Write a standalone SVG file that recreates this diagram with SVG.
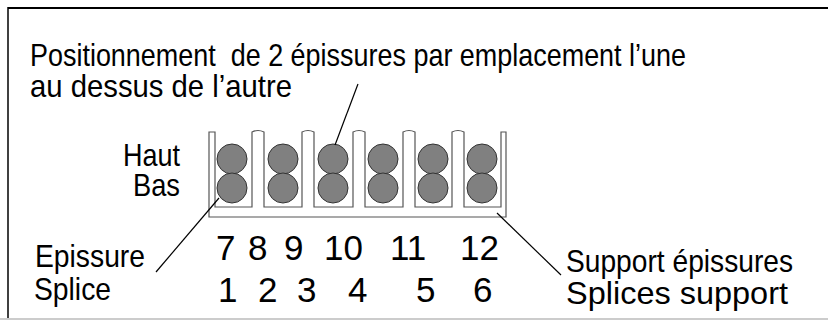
<svg xmlns="http://www.w3.org/2000/svg" width="828" height="320" viewBox="0 0 828 320">
<style>
text{font-family:"Liberation Sans",Arial,sans-serif;fill:#000;white-space:pre}
.t{font-size:32px}
.n{font-size:35px}
.c{fill:#808080;stroke:#333;stroke-width:1}
.ln{stroke:#000;stroke-width:1.2;fill:none}
</style>
<rect width="828" height="320" fill="#fff"/>
<g id="frame">
<line x1="8" y1="8" x2="828" y2="8" stroke="#000" stroke-width="2"/>
<line x1="8" y1="7" x2="8" y2="318" stroke="#000" stroke-width="1.5"/>
<line x1="0" y1="319" x2="828" y2="319" stroke="#bbb" stroke-width="1.5"/>
</g>
<g id="title">
<text class="t" x="30" y="66" textLength="656" lengthAdjust="spacingAndGlyphs">Positionnement  de 2 épissures par emplacement l’une</text>
<text class="t" x="30" y="97" textLength="262" lengthAdjust="spacingAndGlyphs">au dessus de l’autre</text>
</g>
<g id="tray">
<path d="M209,132 V217 H506 V132 H501 V207 H464 V132 Q458,129 452,132 V207 H415 V132 Q409,129 403,132 V207 H365 V132 Q359,129 353,132 V207 H314 V132 Q308,129 302,132 V207 H264 V132 Q258,129 252,132 V207 H215 V132 Z" fill="#fff" stroke="#555" stroke-width="1.2"/>
</g>
<g id="splices">
<circle class="c" cx="232" cy="159" r="15"/><circle class="c" cx="232" cy="188" r="15"/>
<circle class="c" cx="283" cy="159" r="15"/><circle class="c" cx="283" cy="188" r="15"/>
<circle class="c" cx="333" cy="159" r="15"/><circle class="c" cx="333" cy="188" r="15"/>
<circle class="c" cx="383" cy="159" r="15"/><circle class="c" cx="383" cy="188" r="15"/>
<circle class="c" cx="433" cy="159" r="15"/><circle class="c" cx="433" cy="188" r="15"/>
<circle class="c" cx="482" cy="159" r="15"/><circle class="c" cx="482" cy="188" r="15"/>
</g>
<g id="labels">
<text class="t" x="123" y="166" textLength="57" lengthAdjust="spacingAndGlyphs">Haut</text>
<text class="t" x="133" y="196" textLength="47" lengthAdjust="spacingAndGlyphs">Bas</text>
<text class="t" x="35" y="267" textLength="110" lengthAdjust="spacingAndGlyphs">Epissure</text>
<text class="t" x="34" y="300" textLength="77" lengthAdjust="spacingAndGlyphs">Splice</text>
<text class="t" x="566" y="272" textLength="227" lengthAdjust="spacingAndGlyphs">Support épissures</text>
<text class="t" x="566" y="304" textLength="222" lengthAdjust="spacingAndGlyphs">Splices support</text>
</g>
<g id="numbers">
<text class="n" y="260"><tspan x="216">7</tspan> <tspan x="248">8</tspan> <tspan x="284">9</tspan> <tspan x="324">10</tspan> <tspan x="390">11</tspan> <tspan x="460">12</tspan></text>
<text class="n" y="302"><tspan x="218">1</tspan> <tspan x="258">2</tspan> <tspan x="297">3</tspan> <tspan x="348">4</tspan> <tspan x="416">5</tspan> <tspan x="473">6</tspan></text>
</g>
<g id="connectors">
<line class="ln" x1="358" y1="84" x2="335" y2="145"/>
<line class="ln" x1="219" y1="198" x2="156" y2="272"/>
<line class="ln" x1="497" y1="213" x2="561" y2="275"/>
</g>
</svg>
